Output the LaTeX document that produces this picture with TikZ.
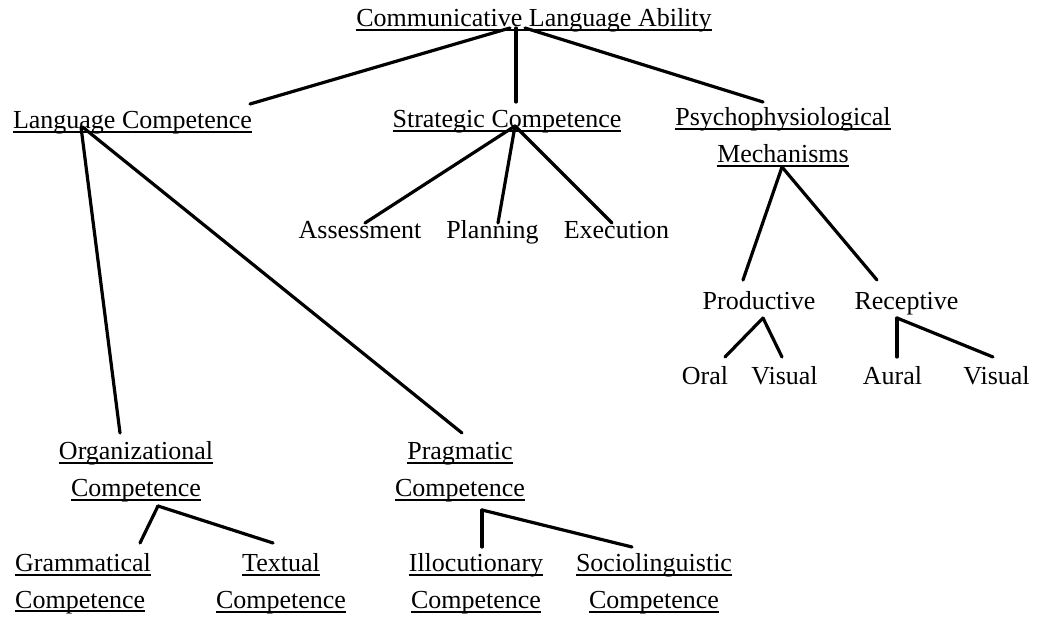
\documentclass[tikz,border=0pt]{standalone}
\usepackage{fontspec}
\setmainfont{Liberation Serif}
\newcommand\ulx[1]{\leavevmode\setbox0\hbox{#1}\rlap{\rule[-4pt]{\wd0}{1.5pt}}\box0}
\newcommand\twoc[2]{\vtop{\baselineskip=37pt\halign{\hfil##\hfil\cr #1\cr #2\cr}}}
\newcommand\twol[2]{\vtop{\baselineskip=36pt\halign{##\hfil\cr #1\cr #2\cr}}}
\tikzset{
  lbl/.style={inner sep=0pt, anchor=base, font=\fontsize{26}{31}\selectfont},
  edge/.style={line width=3.2pt, line cap=round}
}
\begin{document}
\begin{tikzpicture}[x=1pt,y=-1pt]
\useasboundingbox[fill=white] (0,0) rectangle (1037,617);
% nodes
\node[lbl] (cla) at (534,27) {\ulx{Communicative Language Ability}};
\node[lbl] (lc) at (132.5,129) {\ulx{Language Competence}};
\node[lbl] (sc) at (507,128) {\ulx{Strategic Competence}};
\node[lbl] (pm) at (783,126) {\twoc{\ulx{Psychophysiological}}{\ulx{Mechanisms}}};
\node[lbl] (as) at (360,239) {Assessment};
\node[lbl] (pl) at (492.5,239) {Planning};
\node[lbl] (ex) at (616.5,239) {Execution};
\node[lbl] (prod) at (759,310) {Productive};
\node[lbl] (rec) at (906.5,310) {Receptive};
\node[lbl] (oral) at (705,385) {Oral};
\node[lbl] (vis1) at (784.5,385) {Visual};
\node[lbl] (aural) at (892.5,385) {Aural};
\node[lbl] (vis2) at (996.5,385) {Visual};
\node[lbl] (org) at (136,460) {\twoc{\ulx{Organizational}}{\ulx{Competence}}};
\node[lbl] (prag) at (460,460) {\twoc{\ulx{Pragmatic}}{\ulx{Competence}}};
\node[lbl, anchor=base west] (gram) at (15,572) {\twol{\ulx{Grammatical}}{\ulx{Competence}}};
\node[lbl] (text) at (281,572) {\twoc{\ulx{Textual}}{\ulx{Competence}}};
\node[lbl] (illo) at (476,572) {\twoc{\ulx{Illocutionary}}{\ulx{Competence}}};
\node[lbl] (socio) at (654,572) {\twoc{\ulx{Sociolinguistic}}{\ulx{Competence}}};
% connectors
\draw[edge] ([shift={(-24,1)}]cla.base) -- ([shift={(117.5,-25)}]lc.base);
\draw[edge] ([shift={(-18,1)}]cla.base) -- ([shift={(9,-26)}]sc.base);
\draw[edge] ([shift={(-9,1)}]cla.base) -- ([shift={(-20,-24)}]pm.base);
\draw[edge] ([shift={(8,-2)}]sc.base) -- ([shift={(5,-16)}]as.base);
\draw[edge] ([shift={(8,-2)}]sc.base) -- ([shift={(5.5,-16)}]pl.base);
\draw[edge] ([shift={(8,-2)}]sc.base) -- ([shift={(-4.5,-16)}]ex.base);
\draw[edge] ([shift={(-51.5,-2)}]lc.base) -- ([shift={(-16,-27)}]org.base);
\draw[edge] ([shift={(-50,-2)}]lc.base) -- ([shift={(2,-27)}]prag.base);
\draw[edge] ([shift={(-1,41)}]pm.base) -- ([shift={(-16,-30)}]prod.base);
\draw[edge] ([shift={(-1,41)}]pm.base) -- ([shift={(-29.5,-30)}]rec.base);
\draw[edge] ([shift={(4,8)}]prod.base) -- ([shift={(20,-28)}]oral.base);
\draw[edge] ([shift={(4,8)}]prod.base) -- ([shift={(-2.5,-28)}]vis1.base);
\draw[edge] ([shift={(-9.5,8)}]rec.base) -- ([shift={(4.5,-28)}]aural.base);
\draw[edge] ([shift={(-9.5,8)}]rec.base) -- ([shift={(-3.5,-28)}]vis2.base);
\draw[edge] ([shift={(22,46)}]org.base) -- ([shift={(125,-29)}]gram.base west);
\draw[edge] ([shift={(22,46)}]org.base) -- ([shift={(-8,-29)}]text.base);
\draw[edge] ([shift={(22,50)}]prag.base) -- ([shift={(6,-25)}]illo.base);
\draw[edge] ([shift={(22,50)}]prag.base) -- ([shift={(-22,-25)}]socio.base);
\end{tikzpicture}
\end{document}
